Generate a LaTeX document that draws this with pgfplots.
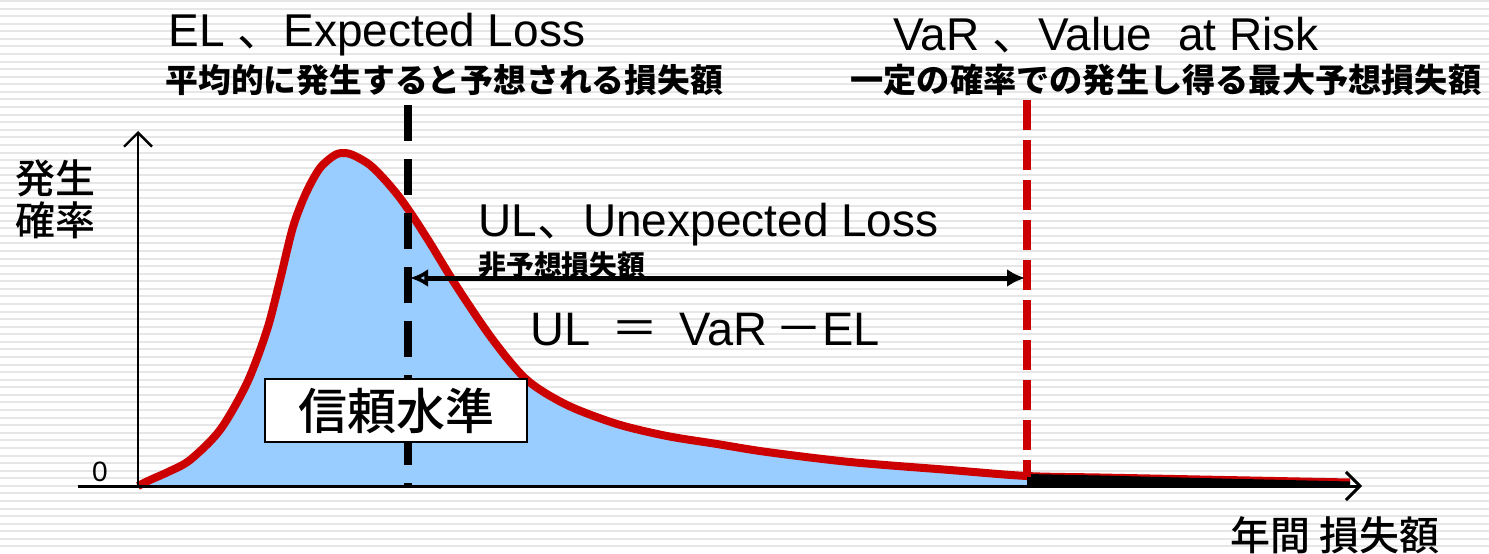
\documentclass[border=0pt]{standalone}
\usepackage{pgfplots}
\pgfplotsset{compat=1.18}
\usepackage{pgfplotstable}
\usetikzlibrary{arrows.meta}
\usepackage{fontspec}
\setmainfont{Liberation Sans}
\newfontfamily\cjk{Noto Sans CJK JP}
\newfontfamily\cjkb{Noto Sans CJK JP Medium}
\definecolor{stripe}{HTML}{E6E6E6}
\definecolor{fillblue}{HTML}{99CCFF}
\definecolor{curvered}{HTML}{CC0000}

\pgfplotstableread{
x y
0 0
12 6
30 14
52 26
82 56
109 103
129 156
142 206
155 259
168 293
182 318
197 331
207 333
217 330
232 321
247 306
262 288
276 268
292 243
319 199
355 146
389 106
429 81
479 62
529 50
579 42
629 34
712 24
812 16
889 10
}\bodytable

\pgfplotstableread{
x y
889 12
962 10.5
1062 8
1212 4.5
}\tailtable

\pgfplotstableread{
x y
0 0
12 6
30 14
52 26
82 56
109 103
129 156
142 206
155 259
168 293
182 318
197 331
207 333
217 330
232 321
247 306
262 288
276 268
292 243
319 199
355 146
389 106
429 81
479 62
529 50
579 42
629 34
712 24
812 16
889 10
962 8.5
1062 6.5
1212 3.5
}\fulltable

\begin{document}
\begin{tikzpicture}
\fill[white] (0,0) rectangle (744.5pt,276.5pt);
\foreach \k in {0,...,72} {
  \pgfmathsetlengthmacro\yy{276pt-\k*3.7875pt}
  \draw[line width=1pt, stripe] (0,\yy) -- (744.5pt,\yy);
}
\begin{axis}[
  at={(0,0)}, anchor=south west,
  scale only axis, width=744.5pt, height=276.5pt,
  xmin=-138, xmax=1351, ymin=-67, ymax=486,
  hide axis, clip=false,
]
% fills
\addplot[draw=none, fill=fillblue, smooth] table {\bodytable} \closedcycle;
% curve
\addplot[curvered, line width=4pt, smooth, line join=round] table {\fulltable};
\addplot[draw=none, fill=black] table {\tailtable} \closedcycle;

% axes
\draw[line width=1.5pt, -{Straight Barb[length=7pt, width=14pt, line width=1.5pt]}] (axis cs:-60,0) -- (axis cs:1224,0);
\draw[line width=1.2pt, -{Straight Barb[length=7pt, width=14pt, line width=1.2pt]}] (axis cs:0,0) -- (axis cs:0,355);

% EL and VaR lines
\draw[line width=4pt, black, dash pattern=on 18pt off 9pt] (axis cs:270,381) -- (axis cs:270,0);
\draw[line width=4pt, curvered, dash pattern=on 15pt off 5pt] (axis cs:889,386) -- (axis cs:889,9);

% UL arrow
\draw[line width=2.5pt, {Latex[open, length=9pt, width=9pt]}-{Latex[length=9pt, width=9pt]}] (axis cs:272,208) -- (axis cs:887,208);

% confidence box
\node[draw=black, line width=0.8pt, fill=white, minimum width=131pt, minimum height=31.5pt, inner sep=0pt, font=\cjkb\fontsize{24.5pt}{26pt}\selectfont] at (axis cs:258,75.5) {信頼水準};

% texts
\node[anchor=west, inner sep=0pt, font=\fontsize{23pt}{25pt}\selectfont] at (axis cs:30,451) {EL {\cjk 、}Expected Loss};
\node[anchor=west, inner sep=0pt, font=\cjk\bfseries\fontsize{16.4pt}{18pt}\selectfont] at (axis cs:27,406) {平均的に発生すると予想される損失額};
\node[anchor=west, inner sep=0pt, font=\fontsize{23pt}{25pt}\selectfont] at (axis cs:755,451) {VaR {\cjk 、}Value\ \ at Risk};
\node[anchor=west, inner sep=0pt, font=\cjk\bfseries\fontsize{16.6pt}{18pt}\selectfont] at (axis cs:712,406) {一定の確率での発生し得る最大予想損失額};
\node[anchor=west, inner sep=0pt, font=\fontsize{23pt}{25pt}\selectfont] at (axis cs:340,261) {UL{\cjk 、}Unexpected Loss};
\node[anchor=west, inner sep=0pt, font=\cjk\bfseries\fontsize{13.9pt}{15pt}\selectfont] at (axis cs:340,221) {非予想損失額};
\node[anchor=west, inner sep=0pt, font=\fontsize{23.5pt}{25pt}\selectfont] at (axis cs:392,156) {UL\,\ {\cjk ＝}\,\ VaR\,{\cjk －}EL};
\node[anchor=west, inner sep=0pt, font=\cjkb\fontsize{20pt}{21pt}\selectfont] at (axis cs:-123,308) {発生};
\node[anchor=west, inner sep=0pt, font=\cjkb\fontsize{20pt}{21pt}\selectfont] at (axis cs:-123,266) {確率};
\node[inner sep=0pt, font=\fontsize{14pt}{15pt}\selectfont] at (axis cs:-38,14) {0};
\node[anchor=west, inner sep=0pt, font=\cjkb\fontsize{20pt}{21pt}\selectfont] at (axis cs:1092,-49) {年間 損失額};
\end{axis}
\pgfresetboundingbox
\useasboundingbox (0,0) rectangle (744.5pt,276.5pt);
\end{tikzpicture}
\end{document}
